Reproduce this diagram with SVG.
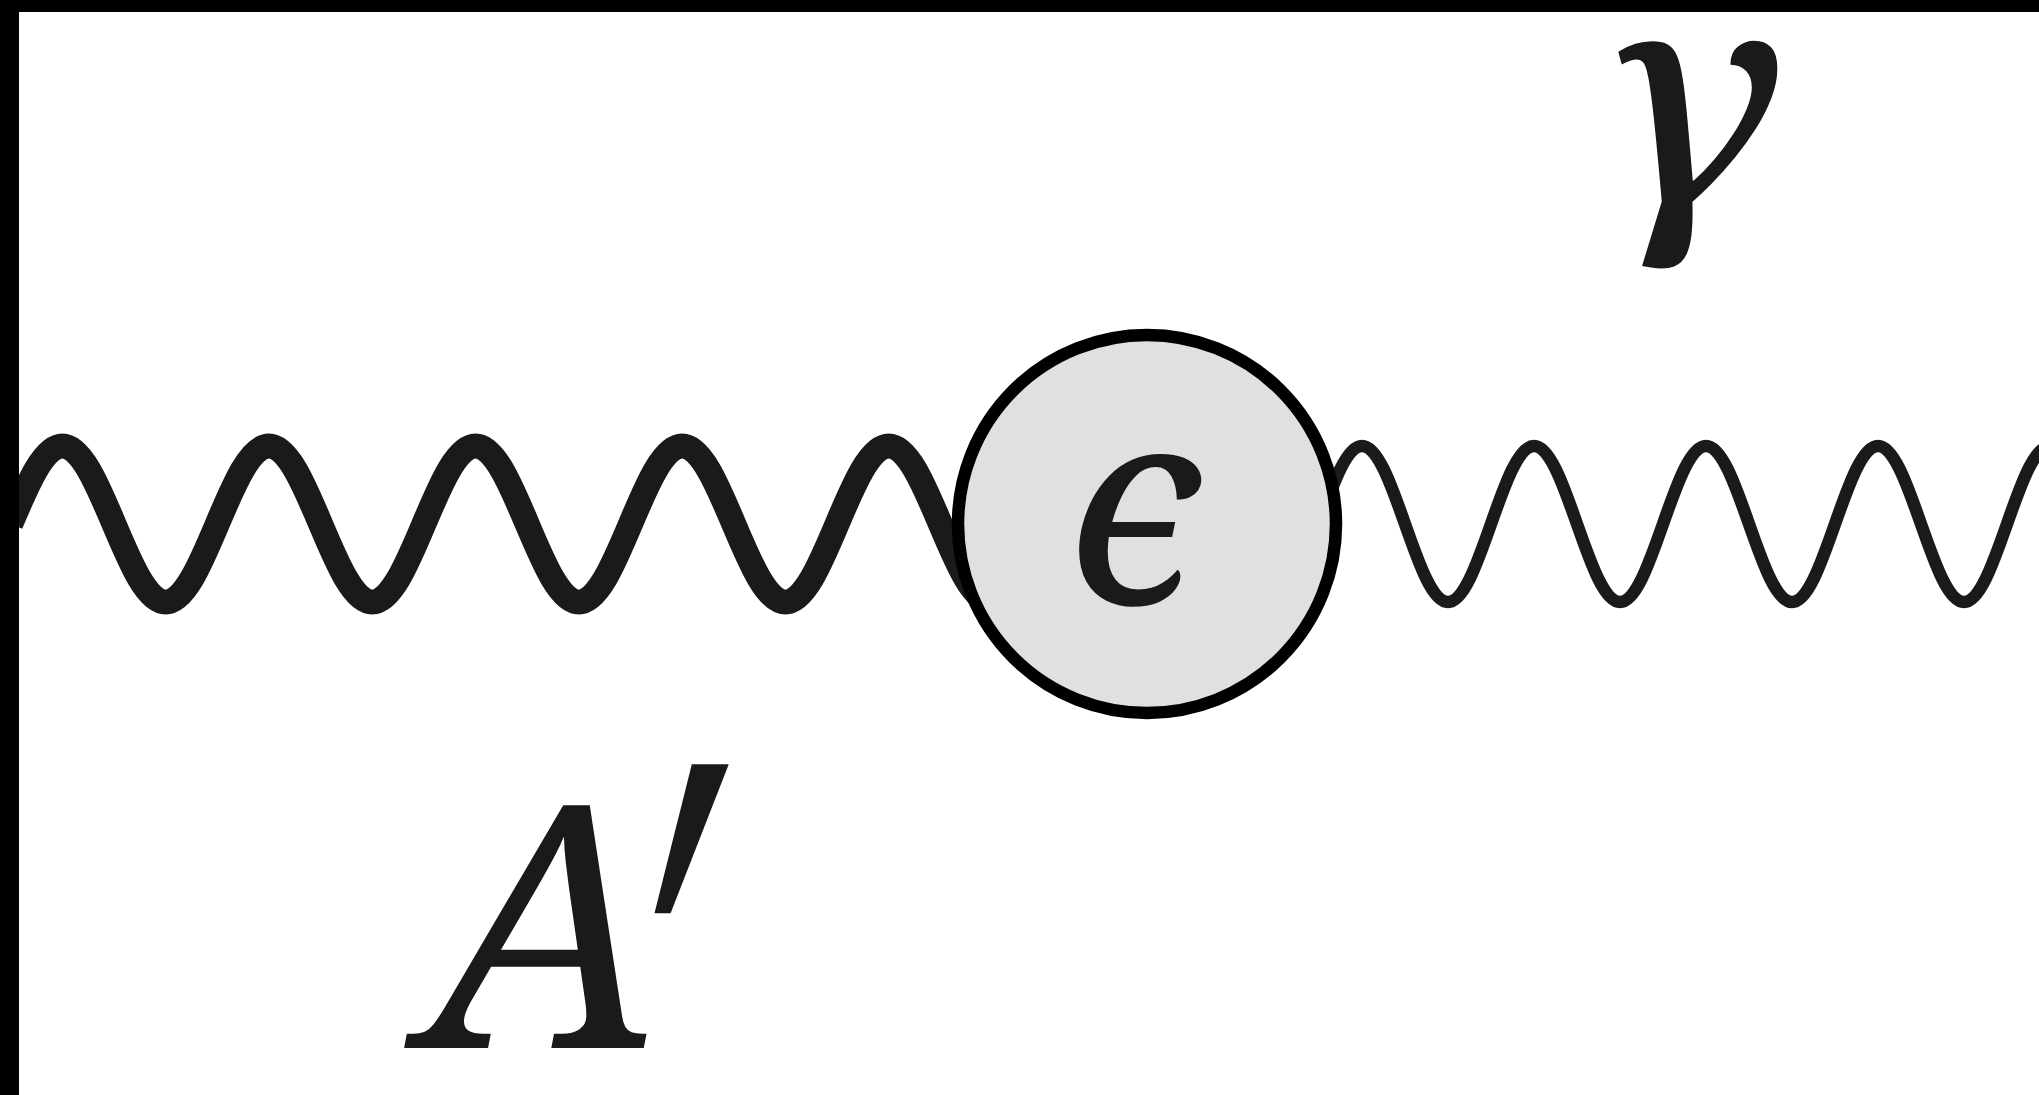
<svg xmlns="http://www.w3.org/2000/svg" width="2039" height="1095" viewBox="0 0 2039 1095">
<style>
.wave{fill:none;stroke:#1a1a1a;stroke-linejoin:round}
.thick{stroke-width:25}
.thin{stroke-width:12.5}
.lbl{font-family:"Noto Serif","Liberation Serif","DejaVu Serif",serif;font-style:italic;fill:#1a1a1a}
</style>
<rect x="0" y="0" width="2039" height="1095" fill="#ffffff"/>
<g id="connectors">
<path id="wave-Aprime" class="wave thick" d="M10.7,524 c16.84,-39.96 32.96,-78 51.65,-78 s34.81,38.04 51.65,78
s32.96,78 51.65,78 s34.81,-38.04 51.65,-78 s32.96,-78 51.65,-78 s34.81,38.04 51.65,78
s32.96,78 51.65,78 s34.81,-38.04 51.65,-78 s32.96,-78 51.65,-78 s34.81,38.04 51.65,78
s32.96,78 51.65,78 s34.81,-38.04 51.65,-78 s32.96,-78 51.65,-78 s34.81,38.04 51.65,78
s32.96,78 51.65,78 s34.81,-38.04 51.65,-78 s32.96,-78 51.65,-78 s34.81,38.04 51.65,78
s32.96,78 51.65,78 s34.81,-38.04 51.65,-78 s32.96,-78 51.65,-78 s34.81,38.04 51.65,78"/>
<path id="wave-gamma" class="wave thin" d="M1147,524 c14.02,-39.96 27.44,-78 43,-78 s28.98,38.04 43,78
s27.44,78 43,78 s28.98,-38.04 43,-78 s27.44,-78 43,-78 s28.98,38.04 43,78
s27.44,78 43,78 s28.98,-38.04 43,-78 s27.44,-78 43,-78 s28.98,38.04 43,78
s27.44,78 43,78 s28.98,-38.04 43,-78 s27.44,-78 43,-78 s28.98,38.04 43,78
s27.44,78 43,78 s28.98,-38.04 43,-78 s27.44,-78 43,-78 s28.98,38.04 43,78
s27.44,78 43,78 s28.98,-38.04 43,-78 s27.44,-78 43,-78 s28.98,38.04 43,78"/>
</g>
<g id="node-epsilon">
<circle cx="1147" cy="524" r="189" fill="#e0e0e0" stroke="#000000" stroke-width="12.5"/>
<text class="lbl" x="1135" y="604" font-size="275" text-anchor="middle">ϵ</text>
</g>
<g id="label-gamma">
<text class="lbl" transform="translate(1689,203) scale(1.15,1)" x="0" y="0" font-size="300" text-anchor="middle">γ</text>
</g>
<g id="label-Aprime">
<text class="lbl" x="543" y="1048" font-size="340" text-anchor="middle">A</text>
<text class="lbl" transform="translate(624,1217) skewX(-6) scale(0.55,1)" x="0" y="0" font-size="634" text-anchor="middle">′</text>
</g>
<g id="frame">
<rect x="0" y="0" width="2039" height="12" fill="#000000"/>
<rect x="0" y="0" width="19" height="1095" fill="#000000"/>
</g>
</svg>
